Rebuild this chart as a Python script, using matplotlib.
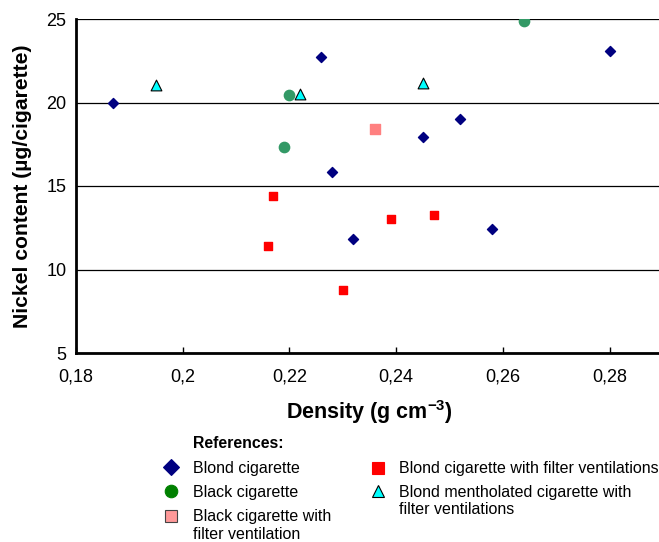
import matplotlib
matplotlib.use("Agg")
import matplotlib.pyplot as plt
from matplotlib.ticker import FuncFormatter, MultipleLocator
from matplotlib.lines import Line2D

plt.rcParams["font.family"] = ["Liberation Sans", "DejaVu Sans"]
plt.rcParams["mathtext.fontset"] = "custom"
plt.rcParams["mathtext.rm"] = "Liberation Sans"
plt.rcParams["mathtext.bf"] = "Liberation Sans:bold"

# --- data (density g/cm3, nickel ug/cigarette) ---
blond_x = [0.187, 0.226, 0.228, 0.232, 0.245, 0.252, 0.258, 0.280]
blond_y = [19.95, 22.72, 15.84, 11.81, 17.95, 19.01, 12.43, 23.08]

black_x = [0.220, 0.219, 0.264]
black_y = [20.47, 17.34, 24.86]

black_filter_x = [0.236]
black_filter_y = [18.43]

blond_filter_x = [0.217, 0.216, 0.230, 0.239, 0.247]
blond_filter_y = [14.38, 11.39, 8.75, 13.00, 13.25]

menthol_x = [0.195, 0.222, 0.245]
menthol_y = [21.05, 20.53, 21.15]

W, H = 659, 542
fig = plt.figure(figsize=(W / 100, H / 100), dpi=100)
ax = fig.add_axes([76 / W, 1 - 353 / H, (663 - 76) / W, (353 - 19) / H])

ax.scatter(blond_x, blond_y, marker="D", s=26, color="#000080", zorder=3)
ax.scatter(black_x, black_y, marker="o", s=55, color="#339966", zorder=3)
ax.scatter(black_filter_x, black_filter_y, marker="s", s=52, color="#FF8080", zorder=3)
ax.scatter(blond_filter_x, blond_filter_y, marker="s", s=27, color="#FF0000", zorder=3)
ax.scatter(menthol_x, menthol_y, marker="^", s=60, color="#00FFFF",
           edgecolors="black", linewidths=0.8, zorder=3)

ax.set_xlim(0.18, 0.29)
ax.set_ylim(5, 25)
ax.xaxis.set_major_locator(MultipleLocator(0.02))
ax.yaxis.set_major_locator(MultipleLocator(5))
ax.xaxis.set_major_formatter(FuncFormatter(lambda v, p: f"{round(v, 2):g}".replace(".", ",")))
ax.yaxis.set_major_formatter(FuncFormatter(lambda v, p: f"{v:g}"))

ax.yaxis.grid(True, color="black", linewidth=0.9)
ax.set_axisbelow(True)
for s in ["top", "right"]:
    ax.spines[s].set_visible(False)
ax.spines["left"].set_linewidth(2)
ax.spines["bottom"].set_linewidth(2)
ax.tick_params(axis="y", length=0, pad=7, labelsize=13)
ax.tick_params(axis="x", direction="in", length=4, width=1, pad=11.5, labelsize=13)

fig.text(23 / W, 1 - 186 / H, "Nickel content (µg/cigarette)", rotation=90,
         ha="center", va="center", fontsize=15.2, fontweight="bold")
fig.text(369 / W, 1 - 412 / H, r"Density (g cm$^{\mathbf{-3}}$)",
         ha="center", va="center", fontsize=15.5, fontweight="bold")

# --- legend drawn by hand ---
fig.text(193 / W, 1 - 443 / H, "References:", ha="left", va="center",
         fontsize=11.4, fontweight="bold")

legend_items = [
    (171, 467, 193, "D", "#000080", "none", 8, "Blond cigarette"),
    (171, 491, 193, "o", "#008000", "none", 9, "Black cigarette"),
    (171, 516, 193, "s", "#FF9999", "#444444", 8.5, "Black cigarette with\nfilter ventilation"),
    (378, 468, 399, "s", "#FF0000", "none", 9, "Blond cigarette with filter ventilations"),
    (378, 491, 399, "^", "#00FFFF", "black", 9, "Blond mentholated cigarette with\nfilter ventilations"),
]
for mx, my, tx, mk, fc, ec, ms, label in legend_items:
    fig.add_artist(Line2D([mx / W], [1 - my / H], marker=mk, markersize=ms,
                          markerfacecolor=fc, markeredgecolor=ec if ec != "none" else fc,
                          markeredgewidth=0.8, linestyle="none"))
    fig.text(tx / W, 1 - (my - 6.5) / H, label, ha="left", va="top", fontsize=11.5,
             linespacing=1.22)

fig.savefig("out.png", dpi=100)
